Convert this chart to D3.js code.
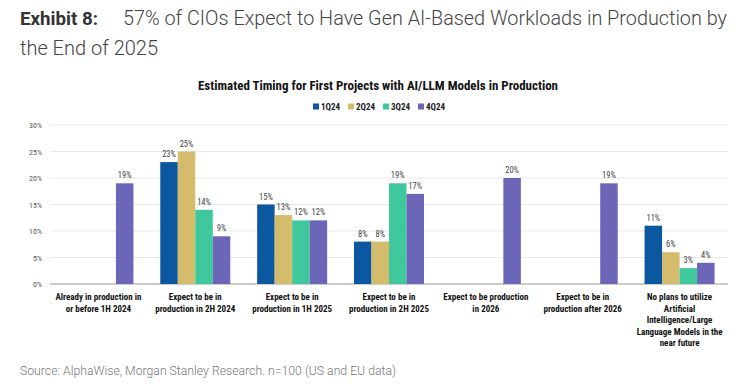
<!DOCTYPE html>
<html>
<head>
<meta charset="utf-8">
<script src="https://cdn.jsdelivr.net/npm/d3@7"></script>
<style>
  body { margin: 0; background: #fff; }
  svg { display: block; }
  .narrow { font-family: "Liberation Sans Narrow", "Roboto Condensed", Roboto, sans-serif; }
</style>
</head>
<body>
<div id="chart"></div>
<script>
const w = 740,
      h = 389;
const margin = {left: 50, right: 12, top: 125, bottom: 105};

const categories = [
  ['Already in production in', 'or before 1H 2024'],
  ['Expect to be in', 'production in 2H 2024'],
  ['Expect to be in', 'production in 1H 2025'],
  ['Expect to be in', 'production in 2H 2025'],
  ['Expect to be production', 'in 2026'],
  ['Expect to be in', 'production after 2026'],
  ['No plans to utilize', 'Artificial', 'Intelligence/Large', 'Language Models in the', 'near future']
];
const seriesNames = ['1Q24', '2Q24', '3Q24', '4Q24'];
const colors = ['#0b57a0', '#d5bb6c', '#3fc79e', '#6b66b7'];
const q1 = [null, 23, 15, 8, null, null, 11];
const q2 = [null, 25, 13, 8, null, null, 6];
const q3 = [null, 14, 12, 19, null, null, 3];
const q4 = [19, 9, 12, 17, 20, 19, 4];
const yTicks = [0, 5, 10, 15, 20, 25, 30];

const series = [q1, q2, q3, q4];

const svg = d3.select('#chart').append('svg')
              .attr('width', w)
              .attr('height', h);

// page title
svg.append('text').attr('x', 20).attr('y', 25)
   .style('font-family', 'Roboto, sans-serif').style('font-size', '19px')
   .attr('font-weight', 700).attr('fill', '#333')
   .attr('textLength', 78).attr('lengthAdjust', 'spacingAndGlyphs').text('Exhibit 8:');
svg.append('text').attr('x', 123).attr('y', 25)
   .style('font-family', 'Roboto, sans-serif').style('font-size', '20px')
   .attr('font-weight', 300).attr('fill', '#444')
   .attr('textLength', 604).attr('lengthAdjust', 'spacingAndGlyphs')
   .text('57% of CIOs Expect to Have Gen AI-Based Workloads in Production by');
svg.append('text').attr('x', 20).attr('y', 55)
   .style('font-family', 'Roboto, sans-serif').style('font-size', '20px')
   .attr('font-weight', 300).attr('fill', '#444')
   .attr('textLength', 138).attr('lengthAdjust', 'spacingAndGlyphs').text('the End of 2025');

// chart title
svg.append('text').attr('class', 'narrow')
   .attr('x', 378).attr('y', 90).attr('text-anchor', 'middle')
   .style('font-size', '13px').attr('font-weight', 700).attr('fill', '#111')
   .attr('textLength', 360).attr('lengthAdjust', 'spacingAndGlyphs')
   .text('Estimated Timing for First Projects with AI/LLM Models in Production');

// legend
const legend = svg.append('g').attr('transform', 'translate(313,107)');
seriesNames.forEach((s, i) => {
  const g = legend.append('g').attr('transform', `translate(${i * 35},0)`);
  g.append('rect').attr('x', 0).attr('y', -3.5).attr('width', 6).attr('height', 6).attr('fill', colors[i]);
  g.append('text').attr('class', 'narrow').attr('x', 8).attr('y', 3)
   .style('font-size', '9px').attr('font-weight', 700).attr('fill', '#222').text(s);
});

const x0 = d3.scaleBand()
             .domain(d3.range(categories.length))
             .range([margin.left, w - margin.right]);
const x1 = d3.scaleBand()
             .domain(d3.range(seriesNames.length))
             .range([0, 70]);
const y = d3.scaleLinear().domain([0, 30]).range([h - margin.bottom, margin.top]);

// grid + y labels
svg.append('g').selectAll('line').data(yTicks).enter().append('line')
   .attr('x1', margin.left).attr('x2', w - margin.right)
   .attr('y1', d => y(d)).attr('y2', d => y(d))
   .attr('stroke', d => d === 0 ? '#bbb' : '#e8e8e8').attr('stroke-width', d => d === 0 ? 1.5 : 1);
svg.append('g').selectAll('text').data(yTicks).enter().append('text')
   .attr('class', 'narrow')
   .attr('x', 42).attr('y', d => y(d) + 3).attr('text-anchor', 'end')
   .style('font-size', '8px').attr('fill', '#555').text(d => d + '%');

// bars
const groups = svg.append('g').selectAll('g').data(categories).enter().append('g')
                  .attr('transform', (d, i) => `translate(${x0(i) + x0.bandwidth() / 2 - 35},0)`);
groups.each(function(d, ci) {
  const vals = series.map((s, si) => ({si, v: s[ci]})).filter(e => e.v !== null);
  const g = d3.select(this);
  g.selectAll('rect').data(vals).enter().append('rect')
   .attr('x', e => x1(e.si)).attr('width', x1.bandwidth())
   .attr('y', e => y(e.v)).attr('height', e => y(0) - y(e.v))
   .attr('fill', e => colors[e.si]);
  g.selectAll('text').data(vals).enter().append('text')
   .attr('class', 'narrow')
   .attr('x', e => x1(e.si) + x1.bandwidth() / 2).attr('y', e => y(e.v) - 5)
   .attr('text-anchor', 'middle').style('font-size', '8.5px').attr('fill', '#444')
   .text(e => e.v + '%');
});

// category labels
svg.append('g').selectAll('text').data(categories).enter().append('text')
   .attr('class', 'narrow')
   .attr('x', (d, i) => x0(i) + x0.bandwidth() / 2).attr('y', 300)
   .attr('text-anchor', 'middle').style('font-size', '9px').attr('font-weight', 700).attr('fill', '#111')
   .each(function(d) {
     const t = d3.select(this);
     d.forEach((line, li) => {
       t.append('tspan').attr('x', t.attr('x')).attr('dy', li === 0 ? 0 : 11.5).text(line);
     });
   });

// source
svg.append('text').attr('x', 20).attr('y', 375)
   .style('font-family', 'Roboto, sans-serif').style('font-size', '13px')
   .attr('font-weight', 300).attr('fill', '#777')
   .attr('textLength', 376).attr('lengthAdjust', 'spacingAndGlyphs')
   .text('Source: AlphaWise, Morgan Stanley Research. n=100 (US and EU data)');
</script>
</body>
</html>
